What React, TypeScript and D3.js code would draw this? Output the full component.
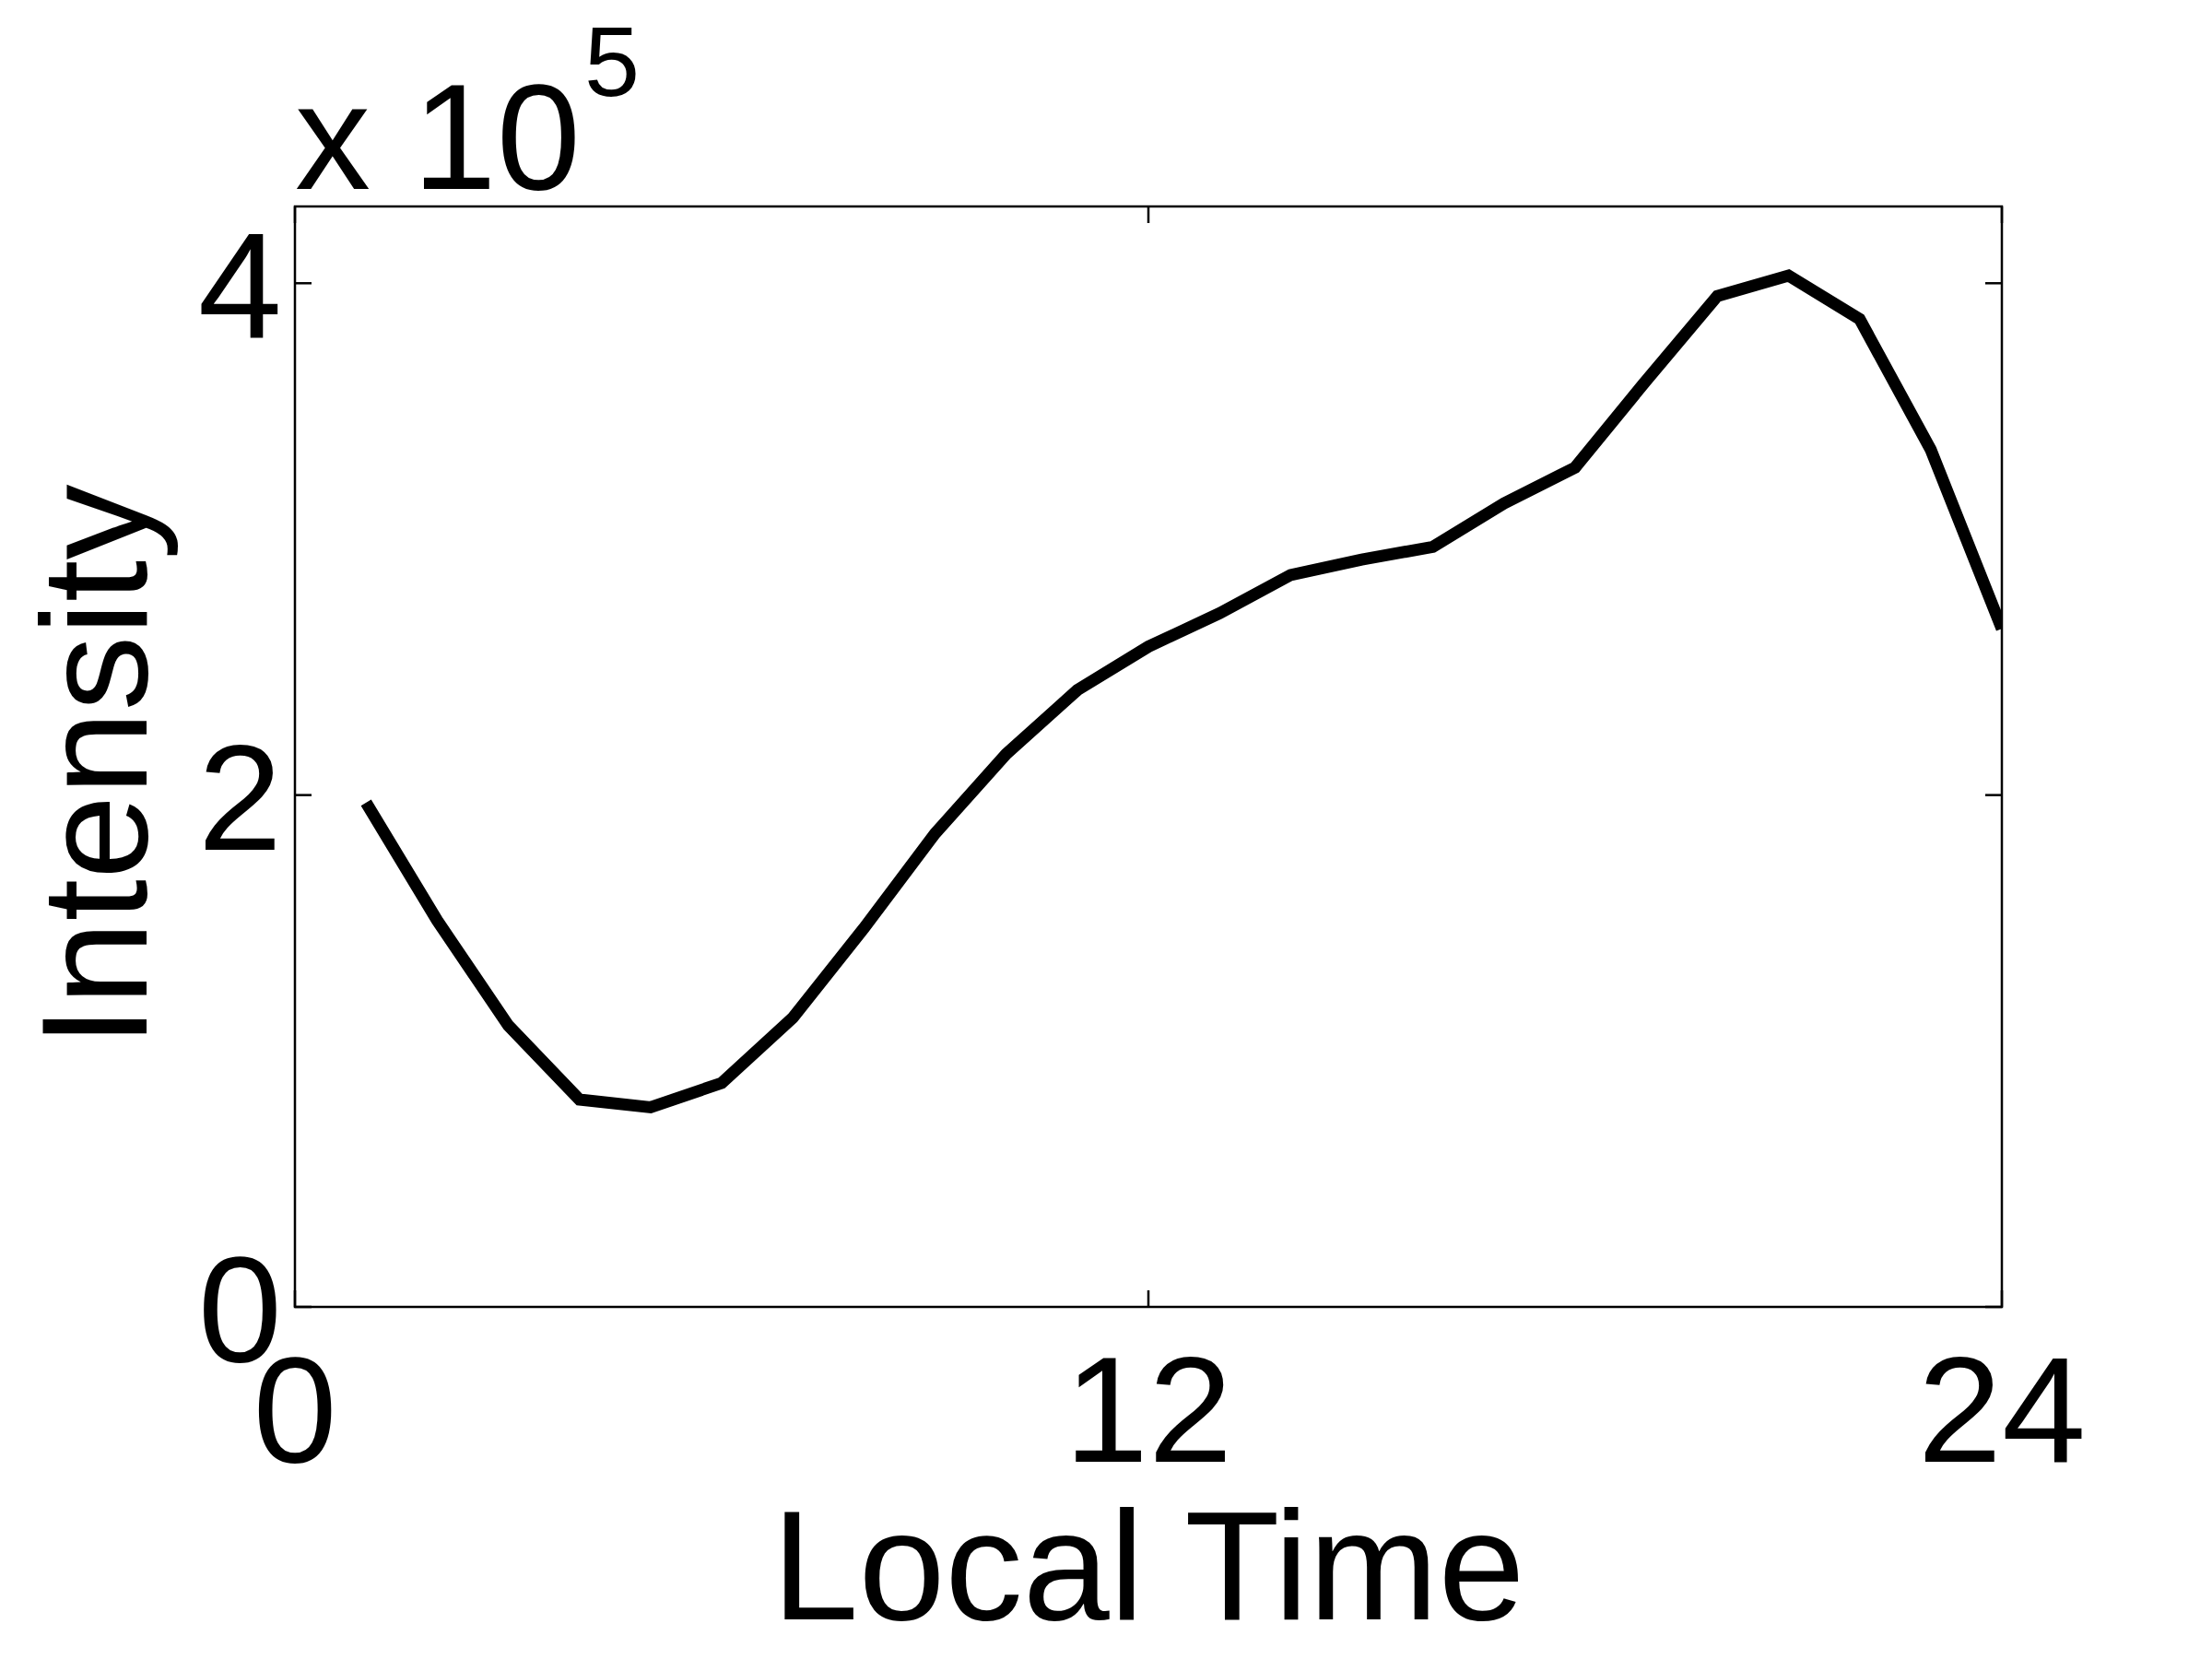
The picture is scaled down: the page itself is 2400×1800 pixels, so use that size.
import React from "react";
import * as d3 from "d3";

const hours = [1, 2, 3, 4, 5, 6, 7, 8, 9, 10, 11, 12, 13, 14, 15, 16, 17, 18, 19, 20, 21, 22, 23, 24];
const intensity = [
  1.97e5, 1.51e5, 1.10e5, 0.81e5, 0.78e5, 0.875e5, 1.13e5, 1.48e5, 1.85e5, 2.16e5, 2.41e5, 2.58e5,
  2.71e5, 2.86e5, 2.92e5, 2.97e5, 3.14e5, 3.28e5, 3.62e5, 3.95e5, 4.03e5, 3.86e5, 3.35e5, 2.65e5,
];
const xTicks = [0, 12, 24];
const yTicks = [0, 2e5, 4e5];
const xDomain = [0, 24];
const yDomain = [0, 4.3e5];
const xLabel = "Local Time";
const yLabel = "Intensity";

export default function App() {
  const W = 2400, H = 1800;
  const left = 320, right = 2172, top = 224, bottom = 1418;
  const x = d3.scaleLinear().domain(xDomain).range([left, right]);
  const y = d3.scaleLinear().domain(yDomain).range([bottom, top]);
  const line = d3.line<number>().x((_, i) => x(hours[i])).y((d) => y(d));
  const fs = 164;
  const tickLen = 18;
  const font = "'Liberation Sans', Arial, Helvetica, sans-serif";
  return (
    <svg width={W} height={H} style={{ position: "absolute", left: 0, top: 0, background: "#fff" }} fontFamily={font}>
      <rect x={0} y={0} width={W} height={H} fill="#fff" />
      <defs>
        <clipPath id="clip">
          <rect x={left} y={top} width={right - left} height={bottom - top} />
        </clipPath>
      </defs>
      <path d={line(intensity) || ""} fill="none" stroke="#000" strokeWidth={13} strokeLinejoin="miter" strokeLinecap="butt" clipPath="url(#clip)" />
      <rect x={left} y={top} width={right - left} height={bottom - top} fill="none" stroke="#000" strokeWidth={2.5} />
      {xTicks.map((t) => (
        <g key={"xt" + t}>
          <line x1={x(t)} x2={x(t)} y1={bottom} y2={bottom - tickLen} stroke="#000" strokeWidth={2.5} />
          <line x1={x(t)} x2={x(t)} y1={top} y2={top + tickLen} stroke="#000" strokeWidth={2.5} />
          <text x={x(t)} y={1586} fontSize={fs} textAnchor="middle" fill="#000">{t}</text>
        </g>
      ))}
      {yTicks.map((t) => (
        <g key={"yt" + t}>
          <line x1={left} x2={left + tickLen} y1={y(t)} y2={y(t)} stroke="#000" strokeWidth={2.5} />
          <line x1={right} x2={right - tickLen} y1={y(t)} y2={y(t)} stroke="#000" strokeWidth={2.5} />
          <text x={306} y={y(t) + 59} fontSize={fs} textAnchor="end" fill="#000">{t / 1e5}</text>
        </g>
      ))}
      <text x={320} y={205} fontSize={fs} fill="#000">x 10</text>
      <text x={634} y={104} fontSize={108} fill="#000">5</text>
      <text x={(left + right) / 2} y={1757} fontSize={169} textAnchor="middle" fill="#000">{xLabel}</text>
      <text transform={`translate(159, ${(top + bottom) / 2 + 10}) rotate(-90)`} fontSize={fs} textAnchor="middle" fill="#000">{yLabel}</text>
    </svg>
  );
}
